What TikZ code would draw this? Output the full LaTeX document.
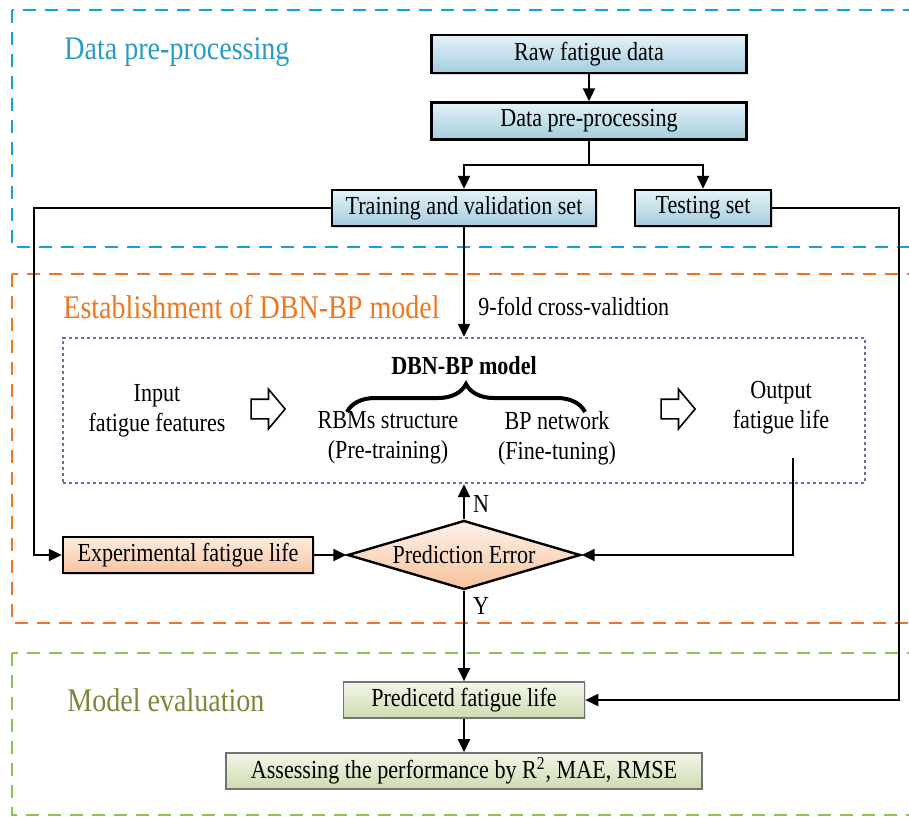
\documentclass[tikz,border=0pt]{standalone}
\usepackage{fontspec}
\setmainfont{Liberation Serif}[FakeStretch=0.85]
\usepackage{tikz}
\usetikzlibrary{arrows.meta,calc,positioning,shapes.geometric,shapes.arrows,shadows,decorations.pathreplacing}

\definecolor{dpblue}{RGB}{20,160,228}
\definecolor{dptitle}{RGB}{40,155,200}
\definecolor{esorange}{RGB}{240,118,30}
\definecolor{mevgreen}{RGB}{140,195,75}
\definecolor{mevtitle}{RGB}{118,138,58}
\definecolor{dbnpurple}{RGB}{128,100,162}

\tikzset{
  txt/.style={font=\fontsize{13}{15}\selectfont,inner sep=0pt},
  titletxt/.style={font=\fontsize{16.5}{19}\selectfont,inner sep=0pt,anchor=west},
  frame/.style={line width=1pt,dash pattern=on 6.5pt off 4.5pt},
  bluebox/.style={txt,draw,line width=1.2pt,top color={rgb,255:red,228;green,242;blue,248},
    bottom color={rgb,255:red,164;green,205;blue,222},minimum height=18.5pt,
    drop shadow={shadow xshift=.8pt,shadow yshift=-.8pt,opacity=.3}},
  orangebox/.style={txt,draw,line width=1.2pt,top color={rgb,255:red,253;green,236;blue,224},
    bottom color={rgb,255:red,248;green,196;blue,160},
    drop shadow={shadow xshift=.8pt,shadow yshift=-.8pt,opacity=.3}},
  greenbox/.style={txt,draw=black!55,line width=.8pt,top color={rgb,255:red,243;green,247;blue,233},
    bottom color={rgb,255:red,206;green,219;blue,176},minimum height=18pt,
    drop shadow={shadow xshift=.6pt,shadow yshift=-.6pt,opacity=.25}},
  hollowarrow/.style={single arrow,draw,fill=white,line width=.8pt,inner xsep=0pt,inner ysep=4.5pt,
    minimum height=17pt,single arrow head extend=5pt,single arrow tip angle=100},
  brace/.style={decorate,decoration={brace,amplitude=14pt},line width=2pt},
  link/.style={->,line width=1pt}
}

\begin{document}
\begin{tikzpicture}[x=0.5pt,y=-0.5pt,>={Triangle[length=6.5pt,width=6pt]}]
  \useasboundingbox (0,0) rectangle (909,816);
  \clip (0,0) rectangle (909,816);
  \draw[frame,dpblue] (12,10) rectangle (920,247);
  \draw[frame,esorange] (12,274) rectangle (920,623);
  \draw[frame,mevgreen] (12,653) rectangle (920,815);

  \node[titletxt,text=dptitle] (tdata) at (64,52) {Data pre-processing};
  \node[titletxt,text=esorange] (tdbn) at (63,307) {Establishment of DBN-BP model};
  \node[titletxt,text=mevtitle] (teval) at (67,700) {Model evaluation};

  \node[bluebox,minimum width=157.5pt,minimum height=19pt] (raw) at (589,54) {Raw fatigue data};
  \node[bluebox,minimum width=157.5pt] (pre) at (589,121) {Data pre-processing};
  \node[bluebox,minimum width=132pt,minimum height=18pt] (train) at (464,208) {Training and validation set};
  \node[bluebox,minimum width=68pt,minimum height=18pt] (test) at (703,208) {Testing set};

  \node[txt,anchor=west] (cv) at (478,306) {9-fold cross-validtion};
  \node[draw=dbnpurple,line width=1.2pt,dash pattern=on 1.6pt off 1.4pt,
    minimum width=401pt,minimum height=72.5pt] (dbn) at (464,410.5) {};
  \node[txt,font=\fontsize{13}{15}\selectfont\bfseries] (dbntitle) at (464,366) {DBN-BP model};
  \node[txt,align=center] (input) at (157,411) {Input\\fatigue features};
  \node[hollowarrow] (harr1) at (264,409) {};
  \node[txt,align=center] (rbm) at (388,438) {RBMs structure\\(Pre-training)};
  \node[txt,align=center] (bpn) at (557,438) {BP network\\(Fine-tuning)};
  \node[hollowarrow] (harr2) at (674,409) {};
  \node[txt,align=center] (output) at (781,408) {Output\\fatigue life};
  \draw[brace] (347,412) -- (585,412);
  \coordinate (outend) at (793,458);

  \node[orangebox,minimum width=125pt,minimum height=18pt] (exp) at (188,555) {Experimental fatigue life};
  \node[diamond,txt,draw,line width=1.2pt,top color={rgb,255:red,254;green,242;blue,234},
    bottom color={rgb,255:red,247;green,194;blue,156},aspect=3.4,
    minimum width=116.5pt,minimum height=34.5pt] (err) at (464,555) {Prediction Error};

  \node[greenbox,minimum width=120.5pt] (pred) at (464,700) {Predicetd fatigue life};
  \node[greenbox,minimum width=238pt] (assess) at (464,771) {Assessing the performance by R\textsuperscript{2}, MAE, RMSE};

  \draw[link] (raw) -- (pre);
  \draw[link] (pre.south) |- ($(pre.south)!.5!(train.north)$) -| (train.north);
  \draw[link] (pre.south) |- ($(pre.south)!.5!(test.north)$) -| (test.north);
  \draw[link] (train.west) -- ++(-297,0) |- (exp.west);
  \draw[link] (test.east) -- ++(127,0) |- (pred.east);
  \draw[link] (train.south) -- (dbn.north);
  \draw[link] (err.north) -- node[txt,right=4pt,pos=.45]{N} (dbn.south);
  \draw[link] (exp) -- (err);
  \draw[link] (outend) |- (err.east);
  \draw[link] (err.south) -- node[txt,right=4pt,pos=.17]{Y} (pred.north);
  \draw[link] (pred) -- (assess);
\end{tikzpicture}
\end{document}
